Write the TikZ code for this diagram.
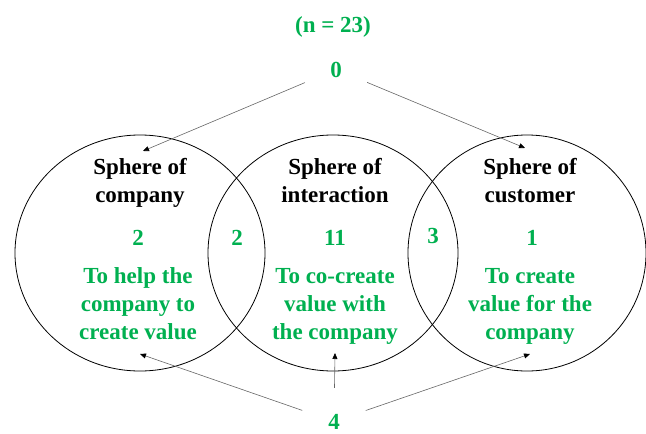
\documentclass[tikz,border=0pt]{standalone}
\usepackage{fontspec}
\setmainfont{Liberation Serif}
\usetikzlibrary{arrows.meta}
\definecolor{grn}{RGB}{0,176,80}

\begin{document}
\begin{tikzpicture}[x=1pt,y=-1pt,
  txt/.style={font=\fontsize{23}{27.7}\selectfont\bfseries,align=center,anchor=base,inner sep=0pt},
  gtxt/.style={txt,text=grn},
  src/.style={gtxt,circle,inner sep=17pt},
  sphere/.style={draw=black,line width=0.8pt},
  ptr/.style={draw=gray!80!black,line width=0.6pt,-{Triangle[length=6pt,width=5pt,color=black]}}]
\useasboundingbox (0,0) rectangle (646,434);
% spheres
\draw[sphere] (140,253) ellipse [x radius=125pt, y radius=118pt];
\draw[sphere] (333,253) ellipse [x radius=125pt, y radius=118pt];
\draw[sphere] (527,253) ellipse [x radius=119pt, y radius=118pt];
% headings
\node[gtxt] (total) at (333,32) {(n = 23)};
\node[src] (zero) at (336,77) {0};
\node[src] (four) at (334,429) {4};
\node[txt] (cmp) at (140,202) {Sphere of\\company};
\node[txt] (int) at (335,202) {Sphere of\\interaction};
\node[txt] (cus) at (530,202) {Sphere of\\customer};
% counts
\node[gtxt] (ncmp) at (138,245) {2};
\node[gtxt] (nci) at (237,245) {2};
\node[gtxt] (nint) at (335,245) {11};
\node[gtxt] (nic) at (433,243) {3};
\node[gtxt] (ncus) at (532,245) {1};
% aims
\node[gtxt] (acmp) at (138,339) {To help the\\company to\\create value};
\node[gtxt] (aint) at (335,339) {To co-create\\value with\\the company};
\node[gtxt] (acus) at (530,339) {To create\\value for the\\company};
% arrows
\coordinate (tipL) at (143,151);
\coordinate (tipR) at (525,148);
\coordinate (botL) at (140,354);
\coordinate (botM) at (335,353);
\coordinate (botR) at (530,354);
\draw[ptr] (zero) -- (tipL);
\draw[ptr] (zero) -- (tipR);
\draw[ptr] (four) -- (botL);
\draw[ptr] (four) -- (botM);
\draw[ptr] (four) -- (botR);
\end{tikzpicture}
\end{document}
